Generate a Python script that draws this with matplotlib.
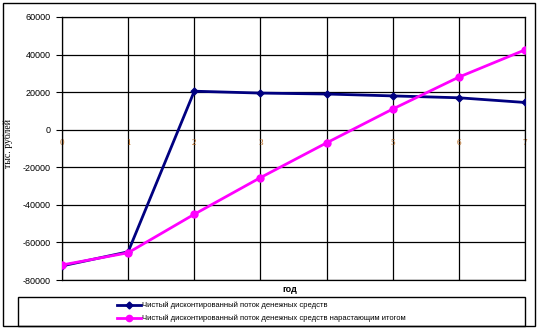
import matplotlib
matplotlib.use("Agg")
import matplotlib.pyplot as plt
from matplotlib.patches import Rectangle
from matplotlib.lines import Line2D

years = [0, 1, 2, 3, 4, 5, 6, 7]
flow = [-72500, -65000, 20500, 19500, 19000, 18000, 17000, 14500]
cumulative = [-72000, -65500, -45000, -25500, -7000, 11000, 28000, 42500]
yticks = [-80000, -60000, -40000, -20000, 0, 20000, 40000, 60000]
label_flow = "Чистый дисконтированный поток денежных средств"
label_cum = "Чистый дисконтированный поток денежных средств нарастающим итогом"

W, H = 539, 329
fig = plt.figure(figsize=(W / 100, H / 100), dpi=100)
fig.patch.set_facecolor("white")

# outer border
fig.patches.append(Rectangle((3 / W, 3 / H), 532 / W, 323 / H, transform=fig.transFigure,
                             fill=False, edgecolor="black", linewidth=1.0))

ax = fig.add_axes([62 / W, 1 - 280 / H, (525 - 62) / W, (280 - 17) / H])
ax.set_xlim(0, 7)
ax.set_ylim(-80000, 60000)
ax.set_yticks(yticks)
ax.set_yticklabels([str(v) for v in yticks], fontsize=6.5, family="Liberation Sans")
ax.set_xticks(years)
ax.tick_params(axis="x", length=0, labelbottom=False)
ax.tick_params(axis="y", length=4, width=0.8, pad=4, direction="out")
ax.grid(True, color="black", linewidth=0.9)
ax.set_axisbelow(True)
for s in ax.spines.values():
    s.set_color("black")
    s.set_linewidth(0.9)

for x in years:
    ax.text(x, -4800, str(x), ha="center", va="top", fontsize=6.5,
            color="#b86a20", family="Liberation Serif", zorder=2)

ax.plot(years, flow, color="#000080", linewidth=2, marker="D", markersize=3.5, zorder=3)
ax.plot(years, cumulative, color="#ff00ff", linewidth=2, marker="o", markersize=5, zorder=4)

ax.set_ylabel("тыс. рублей", fontsize=7, family="Liberation Serif", labelpad=10)
ax.yaxis.set_label_coords(-0.105, 0.52)
fig.text(290 / W, 1 - 289 / H, "год", ha="center", va="center", fontsize=6.5,
         family="Liberation Sans", fontweight="bold")

# legend box
fig.patches.append(Rectangle((18 / W, 3 / H), (525 - 18) / W, (326 - 297) / H,
                             transform=fig.transFigure, fill=False, edgecolor="black", linewidth=1.0))
for yy, col, mk, ms, lab in [(305, "#000080", "D", 3.5, label_flow),
                             (318, "#ff00ff", "o", 4.5, label_cum)]:
    yf = 1 - yy / H
    fig.lines.append(Line2D([117 / W, 141 / W], [yf, yf], transform=fig.transFigure,
                            color=col, linewidth=2))
    fig.lines.append(Line2D([129 / W], [yf], transform=fig.transFigure, color=col,
                            marker=mk, markersize=ms))
    fig.text(142 / W, yf, lab, ha="left", va="center", fontsize=5.5, family="Liberation Sans")

fig.savefig("out.png", dpi=100)
